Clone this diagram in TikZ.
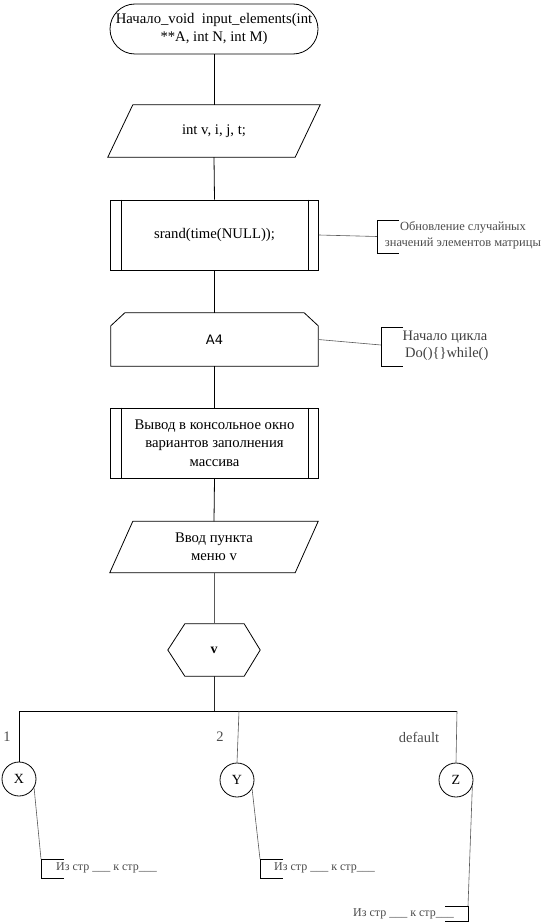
\documentclass[tikz,border=0pt]{standalone}
\usepackage{fontspec}
\setmainfont{Liberation Serif}
\newfontfamily\dejavu{DejaVu Sans}
\usetikzlibrary{calc}
\begin{document}
\begin{tikzpicture}[x=1pt,y=-1pt,
  mainline/.style={black,line width=0.8pt},
  thinline/.style={black!65,line width=0.6pt},
  txt/.style={font=\fontsize{14.7}{18.5}\selectfont,align=center,inner sep=0pt},
  cmt/.style={font=\fontsize{12.5}{15.5}\selectfont,align=center,inner sep=0pt,text=black!70},
  cmtb/.style={font=\fontsize{14.5}{17}\selectfont,align=center,inner sep=0pt,text=black!75},
  lbl/.style={font=\fontsize{14.5}{17}\selectfont,inner sep=0pt,text=black!70},
  conn/.style={draw,mainline,circle,minimum size=34pt,inner sep=0pt,font=\fontsize{14}{16}\selectfont}
]
\useasboundingbox (0,0) rectangle (542,923);
\fill[white] (0,0) rectangle (542,923);

% terminal
\node[draw,mainline,rounded corners=25pt,minimum width=208pt,minimum height=50pt,txt] (term) at (214,29)
  {Начало\_void\ \ input\_elements(int\\**A, int N, int M)};

% parallelogram 1
\node[minimum width=212pt,minimum height=52pt,txt] (par1) at (214,131) {int v, i, j, t;};
\draw[mainline] ($(par1.north west)+(25,0)$) -- (par1.north east) -- ($(par1.south east)-(25,0)$) -- (par1.south west) -- cycle;

% predefined process 1
\node[draw,mainline,minimum width=208pt,minimum height=70pt,txt] (proc1) at (214.5,235) {srand(time(NULL));};
\draw[mainline] ($(proc1.north west)+(11,0)$) -- ($(proc1.south west)+(11,0)$);
\draw[mainline] ($(proc1.north east)-(11,0)$) -- ($(proc1.south east)-(11,0)$);

% loop start A4
\node[minimum width=207pt,minimum height=53pt,font=\dejavu\fontsize{13}{15}\selectfont,inner sep=0pt] (a4) at (214.5,339.5) {A4};
\draw[mainline] ($(a4.north west)+(14,0)$) -- ($(a4.north east)-(14,0)$) -- ($(a4.north east)+(0,13)$)
  -- (a4.south east) -- (a4.south west) -- ($(a4.north west)+(0,13)$) -- cycle;

% predefined process 2
\node[draw,mainline,minimum width=208pt,minimum height=70pt,txt] (proc2) at (214.5,443)
  {Вывод в консольное окно\\вариантов заполнения\\массива};
\draw[mainline] ($(proc2.north west)+(11,0)$) -- ($(proc2.south west)+(11,0)$);
\draw[mainline] ($(proc2.north east)-(11,0)$) -- ($(proc2.south east)-(11,0)$);

% parallelogram 2
\node[minimum width=208pt,minimum height=51pt,txt] (par2) at (214,547) {Ввод пункта\\меню v};
\draw[mainline] ($(par2.north west)+(23,0)$) -- (par2.north east) -- ($(par2.south east)-(23,0)$) -- (par2.south west) -- cycle;

% hexagon
\node[minimum width=92pt,minimum height=52pt,inner sep=0pt,font=\bfseries\fontsize{14}{16}\selectfont] (hex) at (214,650) {v};
\draw[mainline] (hex.west) -- ($(hex.north west)+(17,0)$) -- ($(hex.north east)-(16,0)$) -- (hex.east)
  -- ($(hex.south east)-(16,0)$) -- ($(hex.south west)+(17,0)$) -- cycle;

% main flow connectors
\draw[mainline] (term.south) -- (par1.north);
\draw[mainline] (par1.south) -- (proc1.north);
\draw[mainline] (proc1.south) -- (a4.north);
\draw[mainline] (a4.south) -- (proc2.north);
\draw[mainline] (proc2.south) -- (par2.north);
\draw[thinline] (par2.south) -- (hex.north);

% switch
\coordinate (j) at (214,711);
\coordinate (jx) at (19,711);
\coordinate (jy) at (239,711);
\coordinate (jz) at (457,711);
\draw[black!85,line width=0.7pt] (hex.south) -- (j);
\draw[mainline] (jx) -- (jz);

\node[conn] (cx) at (19,779) {X};
\node[conn] (cy) at (237,780) {Y};
\node[conn] (cz) at (456,780) {Z};

\draw[mainline] (jx) -- (cx.north);
\draw[thinline] (jy) -- (cy.north);
\draw[thinline] (jz) -- (cz.north);

\node[lbl] (l1) at (7,737) {1};
\node[lbl] (l2) at (220,737) {2};
\node[lbl] (l3) at (419,737) {default};

% comments
\coordinate (bs) at (377,236.5);
\draw[thinline] (proc1.east) -- (bs);
\draw[mainline] (399,220) -- (377,220) -- (377,253) -- (399,253);
\node[cmt] (cs) at (463,235.5) {Обновление случайных\\значений элементов матрицы};

\coordinate (ba) at (381,345);
\draw[thinline] (a4.east) -- (ba);
\draw[mainline] (403,327) -- (381,327) -- (381,366) -- (403,366);
\node[cmtb] (ca) at (445,345.5) {Начало цикла\\\ Do()\{\}while()};

\coordinate (bx) at (41,859);
\draw[thinline] (cx.-30) -- (bx);
\draw[mainline] ($(bx)+(23,0)$) -- (bx) -- ($(bx)+(0,19)$) -- ++(23,0);
\node[cmt,font=\fontsize{12}{14}\selectfont,anchor=west] (tx) at (56,868) {Из стр \_\_\_ к стр\_\_\_};

\coordinate (by) at (260,859);
\draw[thinline] (cy.-30) -- (by);
\draw[mainline] ($(by)+(23,0)$) -- (by) -- ($(by)+(0,19)$) -- ++(23,0);
\node[cmt,font=\fontsize{12}{14}\selectfont,anchor=west] (ty) at (274,868) {Из стр \_\_\_ к стр\_\_\_};

\coordinate (bz) at (468,906);
\draw[thinline] (cz.-20) -- (bz);
\draw[mainline] ($(bz)+(-23,0)$) -- (bz) -- ($(bz)+(0,15)$) -- ++(-23,0);
\node[cmt,font=\fontsize{12}{14}\selectfont,anchor=east] (tz) at (454,914) {Из стр \_\_\_ к стр\_\_\_};
\end{tikzpicture}
\end{document}
